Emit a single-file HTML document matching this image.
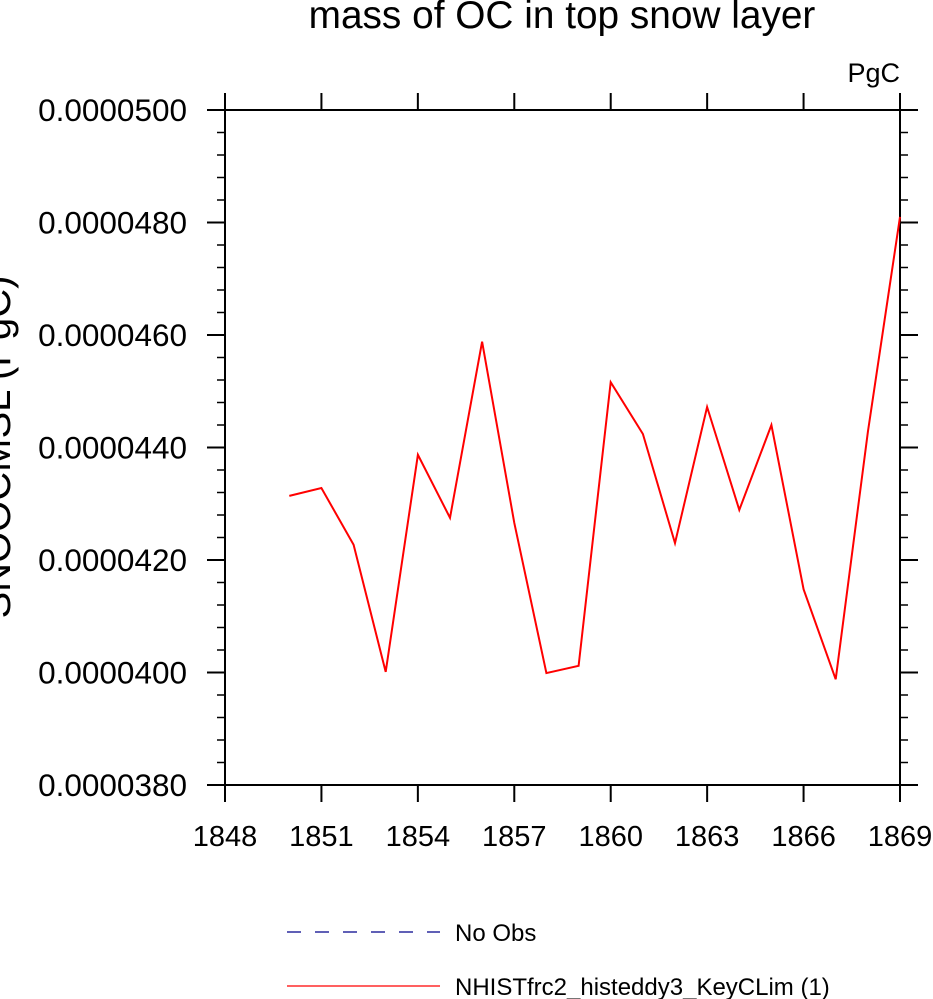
<!DOCTYPE html>
<html><head><meta charset="utf-8"><style>
html,body{margin:0;padding:0;background:#fff;}
svg{display:block;font-family:"Liberation Sans",sans-serif;}
</style></head><body>
<svg id="chart" width="933" height="999">
<text x="562" y="28" font-size="38.8" text-anchor="middle">mass of OC in top snow layer</text>
<text x="900" y="82" font-size="27" text-anchor="end">PgC</text>
<text transform="translate(10,447) rotate(-90)" font-size="40" text-anchor="middle">SNOOCMSL (PgC)</text>
<g id="axes"></g>
<g id="series"></g>
<g>
<line x1="287" y1="932" x2="440" y2="932" stroke="#00008b" stroke-width="1.3" stroke-dasharray="14,14"/>
<text x="455" y="941" font-size="24">No Obs</text>
<line x1="287" y1="986" x2="440" y2="986" stroke="red" stroke-width="1.3"/>
<text x="455" y="995" font-size="24">NHISTfrc2_histeddy3_KeyCLim (1)</text>
</g>
</svg>
<script>
const years = [1850,1851,1852,1853,1854,1855,1856,1857,1858,1859,1860,1861,1862,1863,1864,1865,1866,1867,1868,1869];
const values = [431.4,432.8,422.7,400.1,438.7,427.5,458.8,426.6,399.9,401.2,451.6,442.4,423.0,447.2,428.9,444.0,414.8,398.8,442.8,481.0];
const xTicks = [1848,1851,1854,1857,1860,1863,1866,1869];
const yTicks = [380,400,420,440,460,480,500];
const yTickLabels = ["0.0000380","0.0000400","0.0000420","0.0000440","0.0000460","0.0000480","0.0000500"];

const L=225,R=900,T=110,B=785;
const xMin=1848,xMax=1869,yMin=380,yMax=500;
const sx=v=>L+(v-xMin)/(xMax-xMin)*(R-L);
const sy=v=>B-(v-yMin)/(yMax-yMin)*(B-T);
const NS="http://www.w3.org/2000/svg";
const axes=document.getElementById('axes');
function mk(tag,attrs,parent){const e=document.createElementNS(NS,tag);for(const k in attrs)e.setAttribute(k,attrs[k]);parent.appendChild(e);return e;}

const frame=mk('rect',{x:L,y:T,width:R-L,height:B-T,fill:'none',stroke:'#000','stroke-width':2},axes);



xTicks.forEach(t=>{
  const x=sx(t);
  const a=mk('line',{x1:x,y1:B,x2:x,y2:B+17,stroke:'#000','stroke-width':2},axes);
  
  
  const b=mk('line',{x1:x,y1:T,x2:x,y2:T-17,stroke:'#000','stroke-width':2},axes);
  
  
  const lb=mk('text',{x:x,y:846,'font-size':29,'text-anchor':'middle'},axes);
  lb.textContent=t;
  
  
});
yTicks.forEach((t,i)=>{
  const y=sy(t);
  const a=mk('line',{x1:L,y1:y,x2:L-18,y2:y,stroke:'#000','stroke-width':2},axes);
  
  
  const b=mk('line',{x1:R,y1:y,x2:R+18,y2:y,stroke:'#000','stroke-width':2},axes);
  
  
  const lb=mk('text',{x:187,y:y+11,'font-size':31.5,'text-anchor':'end'},axes);
  lb.textContent=yTickLabels[i];
  
  
  if(i<yTicks.length-1){
    for(let k=1;k<5;k++){
      const ym=sy(t+k*(yTicks[1]-yTicks[0])/5);
      const m=mk('line',{x1:L,y1:ym,x2:L-8,y2:ym,stroke:'#000','stroke-width':1.5},axes);
      
      
      const m2=mk('line',{x1:R,y1:ym,x2:R+8,y2:ym,stroke:'#000','stroke-width':1.5},axes);
      
      
    }
  }
});
const pts=years.map((yr,i)=>sx(yr).toFixed(1)+','+sy(values[i]).toFixed(1)).join(' ');
const line=mk('polyline',{points:pts,fill:'none',stroke:'red','stroke-width':2},document.getElementById('series'));


</script>
</body></html>
